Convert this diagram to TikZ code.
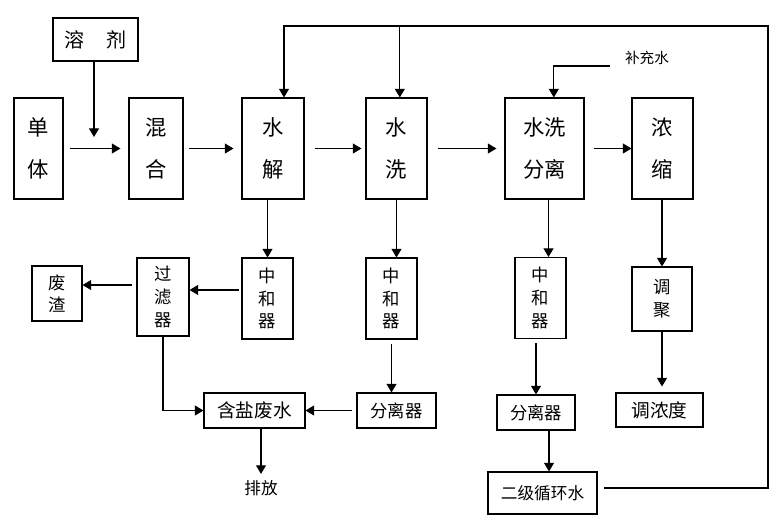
\documentclass[tikz,border=0pt]{standalone}
\usepackage{fontspec}
\newfontfamily\cjk{Noto Sans CJK SC}
\usepackage{tikz}
\usetikzlibrary{arrows.meta, calc}
\def\zhbig{\cjk\fontsize{16}{32}\selectfont}
\def\zhmid{\cjk\fontsize{14}{17}\selectfont}
\def\zhsmall{\cjk\fontsize{13}{17}\selectfont}

\begin{document}
\begin{tikzpicture}[x=0.75pt,y=-0.75pt,line width=0.9pt,
  >={Triangle[length=6.5pt,width=7.5pt]},
  box/.style={draw,line width=0.8pt,inner sep=0pt,align=center},
  tall/.style={box,minimum width=#1,minimum height=75.75pt,font=\zhbig},
  unit/.style={box,minimum width=38.25pt,minimum height=60.75pt,font=\zhsmall},
  flat/.style={box,minimum height=26.25pt,font=\zhmid}]
\useasboundingbox (0,0) rectangle (779,519);
% first row
\node[box,minimum width=63.75pt,minimum height=32.25pt,font=\cjk\fontsize{15}{18}\selectfont] (solv) at (95.5,39.5) {溶\hspace{1.1em}剂};
\node[tall=36.75pt] (mono) at (38.5,148.5) {单\\体};
\node[tall=40.5pt] (mix) at (156,148.5) {混\\合};
\node[tall=46.5pt] (hydro) at (273,148.5) {水\\解};
\node[tall=45.75pt] (wash) at (396.5,148.5) {水\\洗};
\node[tall=59.25pt] (sep) at (544.5,148.5) {水洗\\分离};
\node[tall=45.75pt] (conc) at (662.5,148.5) {浓\\缩};
\node[font=\cjk\fontsize{11}{13}\selectfont] (water) at (647,58) {补充水};
% second row
\node[box,minimum width=37.5pt,minimum height=41.25pt,font=\cjk\fontsize{13}{16.5}\selectfont] (slag) at (57,293.5) {废\\渣};
\node[box,minimum width=39pt,minimum height=58.5pt,font=\zhsmall] (filt) at (163,297) {过\\滤\\器};
\node[unit] (neuA) at (267.5,298.5) {中\\和\\器};
\node[unit] (neuB) at (391.5,298.5) {中\\和\\器};
\node[unit] (neuC) at (540.5,298) {中\\和\\器};
\node[box,minimum width=45pt,minimum height=48pt,font=\zhsmall] (poly) at (662,299) {调\\聚};
% third row
\node[flat,minimum width=75.75pt] (salt) at (254.5,410.5) {含盐废水};
\node[flat,minimum width=59.25pt,font=\zhsmall] (sepA) at (396.5,410.5) {分离器};
\node[flat,minimum width=58.5pt,font=\zhsmall] (sepB) at (536,412.5) {分离器};
\node[flat,minimum width=65.25pt,minimum height=25.5pt] (visc) at (659.5,410) {调浓度};
\node[box,minimum width=81.75pt,minimum height=31.5pt,font=\cjk\fontsize{12.5}{15}\selectfont] (recyc) at (542.5,493) {二级循环水};
\node[font=\cjk\fontsize{12.5}{15}\selectfont] (drain) at (261,488) {排放};

\coordinate (drop) at (94,137);
\coordinate (corner) at (768,26);
\coordinate (feed) at (610,66);

\draw[->] (solv.south -| drop) -- (drop);
\draw[->,shorten <=4.5pt,shorten >=6pt] (mono) -- (mix);
\draw[->,shorten <=4pt,shorten >=6pt] (mix) -- (hydro);
\draw[->,shorten <=8pt,shorten >=3pt] (hydro) -- (wash);
\draw[->,shorten <=7.5pt,shorten >=6pt] (wash) -- (sep);
\draw[->,shorten <=7pt] (sep) -- (conc);
\draw[->] (feed) -| ([xshift=7pt]sep.north);
% recycle loop
\draw[->,shorten <=4.5pt] ([yshift=3.75pt]recyc.east) -- ([yshift=3.75pt]recyc.east -| corner) -- (corner) -| ([xshift=8.25pt]hydro.north);
\draw[->] ([xshift=2.5pt]wash.north |- corner) -- ([xshift=2.5pt]wash.north);
% down
\draw[->] (neuA |- hydro.south) -- (neuA);
\draw[->] (wash.south) -- (wash.south |- neuB.north);
\draw[->] ([xshift=3pt]sep.south) -- ([xshift=3pt]sep.south |- neuC.north);
\draw[->] (conc.south -| poly) -- (poly);
\draw[->,shorten <=3pt] (neuB.south) -- (neuB.south |- sepA.north);
\draw[->,shorten <=3pt] (sepB |- neuC.south) -- (sepB);
\draw[->] ([xshift=9.75pt]sepB.south) -- ([xshift=9.75pt]sepB.south |- recyc.north);
\draw[->,shorten >=4.5pt] (poly) -- (poly |- visc.north);
% waste side
\draw[->,shorten <=2pt] ([yshift=6.4pt]neuA.west) -- ([yshift=6.4pt]neuA.west -| filt.east);
\draw[->,shorten <=3pt] ([yshift=9pt]filt.west) -- ([yshift=9pt]filt.west -| slag.east);
\draw[->] (filt) |- (salt);
\draw[->,shorten <=3pt] (sepA) -- (salt);
\draw[->,shorten >=1pt] (salt.south -| drain) -- (drain);
\end{tikzpicture}
\end{document}
